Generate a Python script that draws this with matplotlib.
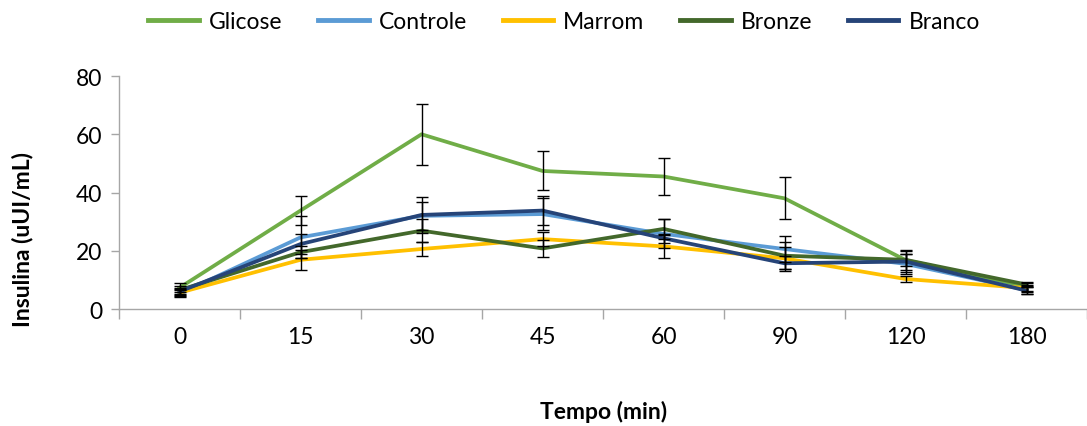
import numpy as np
import matplotlib; matplotlib.use("Agg")
import matplotlib.pyplot as plt

plt.rcParams["font.family"] = ["Lato", "DejaVu Sans"]

tempo = ["0", "15", "30", "45", "60", "90", "120", "180"]

glicose = [7.3, 33.8, 60.0, 47.4, 45.5, 38.0, 16.8, 7.6]
glicose_err = [1.5, 5.1, 10.4, 6.7, 6.5, 7.2, 3.5, 1.5]
controle = [5.2, 24.6, 32.0, 32.6, 25.8, 20.6, 15.5, 6.5]
controle_err = [1.2, 7.2, 4.7, 5.5, 5.0, 4.4, 3.5, 1.3]
marrom = [5.6, 16.9, 20.6, 24.0, 21.5, 17.4, 10.3, 7.2]
marrom_err = [1.2, 3.5, 2.3, 2.5, 4.0, 3.8, 1.1, 1.2]
bronze = [6.5, 19.5, 26.9, 20.8, 27.5, 18.3, 16.9, 8.4]
bronze_err = [1.4, 2.1, 4.0, 3.0, 3.5, 4.6, 2.0, 1.0]
branco = [6.0, 22.3, 32.3, 33.8, 24.3, 15.7, 16.3, 6.3]
branco_err = [1.3, 3.5, 6.1, 5.0, 1.6, 2.5, 3.5, 1.2]

series = [("Glicose", "#70AD47", glicose, glicose_err),
          ("Controle", "#5B9BD5", controle, controle_err),
          ("Marrom", "#FFC000", marrom, marrom_err),
          ("Bronze", "#43682B", bronze, bronze_err),
          ("Branco", "#264478", branco, branco_err)]

fs = 16.5
fig = plt.figure(figsize=(10.87, 4.27), dpi=100)
ax = fig.add_axes([0.1095, 0.274, 0.8905, 0.5456])
x = np.arange(len(tempo))
for name, color, vals, err in series:
    ax.plot(x, vals, color=color, lw=2.7, label=name, zorder=3)
for name, color, vals, err in series:
    ax.errorbar(x, vals, yerr=err, fmt="none", ecolor="black", elinewidth=1.0,
                capsize=4.5, capthick=1.0, zorder=4)

ax.set_xlim(-0.5, len(tempo) - 0.5)
ax.set_ylim(0, 80)
ax.set_yticks([0, 20, 40, 60, 80])
ax.set_xticks(x)
ax.set_xticklabels(tempo)
ax.set_xticks(np.arange(-0.5, len(tempo), 1), minor=True)
ax.tick_params(axis="x", which="major", length=0, pad=12, labelsize=fs)
ax.tick_params(axis="x", which="minor", length=7, color="#A6A6A6", width=1)
ax.tick_params(axis="y", length=6, color="#A6A6A6", width=1, labelsize=fs, pad=6)
for s in ["top", "right"]:
    ax.spines[s].set_visible(False)
for s in ["left", "bottom"]:
    ax.spines[s].set_color("#A6A6A6")
    ax.spines[s].set_linewidth(1)

fig.text(0.555, 0.035, "Tempo (min)", ha="center", va="center", fontsize=fs, fontweight="bold")
fig.text(0.021, 0.44, "Insulina (uUI/mL)", ha="center", va="center", rotation=90,
         fontsize=fs, fontweight="bold")

handles, labels = ax.get_legend_handles_labels()
leg = fig.legend(handles, labels, loc="center", bbox_to_anchor=(0.519, 0.948), ncol=5,
                 frameon=False, fontsize=fs, handlelength=2.2, handletextpad=0.45,
                 columnspacing=1.55)
for h in leg.get_lines():
    h.set_linewidth(3.5)

fig.savefig("out.png", dpi=100)
